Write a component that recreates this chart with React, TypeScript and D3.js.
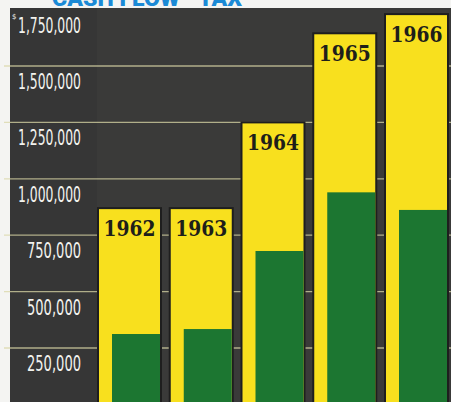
import React from "react";
import * as d3 from "d3";

const years = ["1962", "1963", "1964", "1965", "1966"];
const totalValues = [870000, 870000, 1250000, 1645000, 1730000];
const greenValues = [312000, 334000, 680000, 940000, 862000];
const tickValues = [250000, 500000, 750000, 1000000, 1250000, 1500000, 1750000];
const tickLabels = ["250,000", "500,000", "750,000", "1,000,000", "1,250,000", "1,500,000", "1,750,000"];

const W = 451;
const H = 402;

export default function App() {
  const y = d3.scaleLinear().domain([0, 1750000]).range([404.4, 9.6]);
  const x = d3.scaleBand<string>().domain(years).range([98, 448]).paddingInner(0.122).paddingOuter(0);
  const bw = x.bandwidth();
  const inset = 14;

  return (
    <svg width={W} height={H} style={{ position: "absolute", left: 0, top: 0 }}>
      <rect x={0} y={0} width={W} height={H} fill="#f4f4f2" />
      <text x={52} y={6} fontFamily="Roboto, 'DejaVu Sans', sans-serif" fontWeight={900} fontSize={22} fill="#1b8ad6" textLength={190} lengthAdjust="spacingAndGlyphs">CASH FLOW · TAX</text>
      <rect x={10} y={8} width={W - 10} height={H - 8} fill="#3a3a39" />
      <rect x={10} y={8} width={87} height={H - 8} fill="#363636" />
      {tickValues.slice(0, -1).map((v) => (
        <line key={v} x1={4} x2={W} y1={y(v)} y2={y(v)} stroke="#d9d7a6" strokeOpacity={0.75} strokeWidth={1.3} />
      ))}
      {tickValues.map((v, i) => (
        <text
          key={v}
          x={81}
          y={y(v) + 23}
          textAnchor="end"
          fontFamily="'Liberation Sans Narrow', 'DejaVu Sans Condensed', 'Liberation Sans', sans-serif"
          fontSize={21}
          fill="#f2f2ee"
          textLength={tickLabels[i].length > 7 ? 63 : 54}
          lengthAdjust="spacingAndGlyphs"
        >
          {tickLabels[i]}
        </text>
      ))}
      <text x={12} y={y(1750000) + 9} fontFamily="'DejaVu Sans', sans-serif" fontSize={7} fill="#f2f2ee">$</text>
      {years.map((yr, i) => {
        const x0 = x(yr)!;
        const top = y(totalValues[i]);
        const gTop = y(greenValues[i]);
        return (
          <g key={yr}>
            <rect x={x0} y={top} width={bw} height={H - top + 5} fill="#f8e01e" stroke="#1e1e1e" strokeWidth={2} />
            <rect x={x0 + inset} y={gTop} width={bw - inset - 1} height={H - gTop + 5} fill="#1c7631" />
            <text
              x={x0 + bw / 2}
              y={top + 28}
              textAnchor="middle"
              fontFamily="'DejaVu Serif Condensed', 'DejaVu Serif', serif"
              fontWeight={700}
              fontSize={23}
              fill="#1e1e1a"
              textLength={52}
              lengthAdjust="spacingAndGlyphs"
            >
              {yr}
            </text>
          </g>
        );
      })}
    </svg>
  );
}
